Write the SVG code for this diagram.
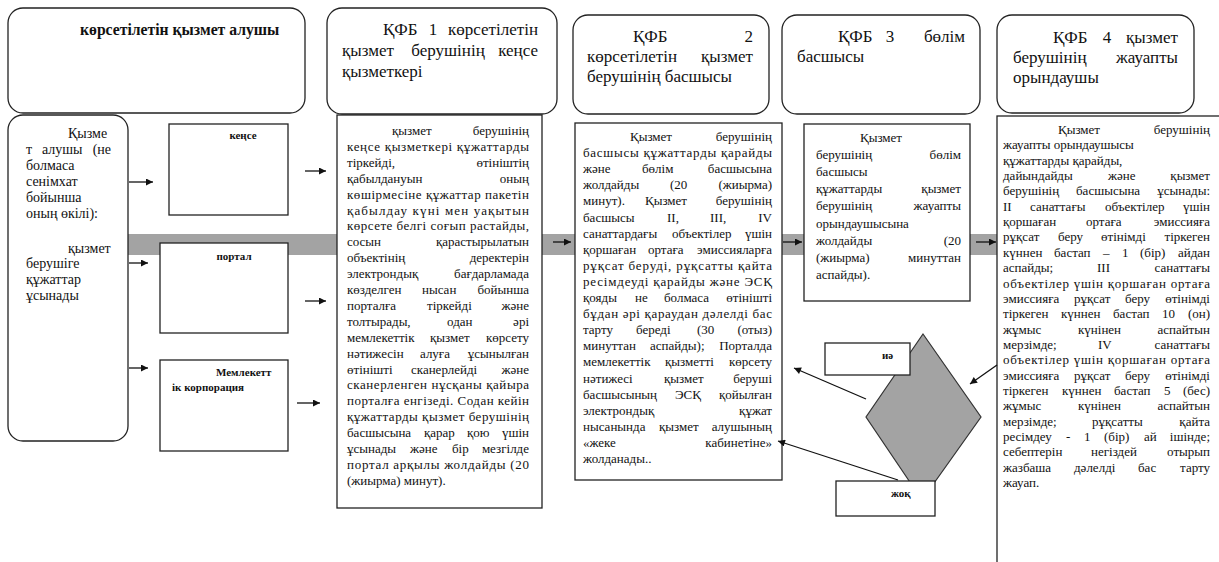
<svg xmlns="http://www.w3.org/2000/svg" width="1219" height="562" viewBox="0 0 1219 562">
<style>
text{font-family:"Liberation Serif","Times New Roman",serif;font-size:13px;fill:#111}
.e{text-anchor:end}
.m{text-anchor:middle}
.h{font-size:17px}
.hb{font-size:15.7px;font-weight:bold}
.l{font-size:14px}
.sm{font-size:11px;font-weight:bold}
.box{fill:#fff;stroke:#222;stroke-width:1.3}
.band{fill:#a3a3a3}
.dia{fill:#a3a3a3;stroke:#333;stroke-width:1.2}
.cn{stroke:#111;stroke-width:1.3;fill:none;marker-end:url(#ah)}
</style>
<defs>
<marker id="ah" viewBox="0 0 10 10" refX="10" refY="5" markerWidth="9" markerHeight="7" markerUnits="userSpaceOnUse" orient="auto">
<path d="M0,0 L10,5 L0,10 z" fill="#111"/>
</marker>
</defs>

<g id="band"><rect class="band" x="128" y="234" width="869" height="21"/></g>

<g id="header-1">
<rect class="box" x="8" y="8" width="297" height="105" rx="15"/>
<text class="hb" x="80" y="35">көрсетілетін қызмет алушы</text>
</g>
<g id="header-2">
<rect class="box" x="327" y="8" width="230" height="106" rx="15"/>
<text class="h" x="383" y="35">ҚФБ</text><text class="h m" x="433" y="35">1</text><text class="h e" x="538" y="35">көрсетілетін</text>
<text class="h" x="342" y="56">қызмет</text><text class="h m" x="448" y="56">берушінің</text><text class="h e" x="538" y="56">кеңсе</text>
<text class="h" x="342" y="77">қызметкері</text>
</g>
<g id="header-3">
<rect class="box" x="573" y="15" width="196" height="99" rx="15"/>
<text class="h" x="633" y="42">ҚФБ</text><text class="h e" x="753" y="42">2</text>
<text class="h" x="587" y="62">көрсетілетін</text><text class="h e" x="753" y="62">қызмет</text>
<text class="h" x="587" y="82">берушінің басшысы</text>
</g>
<g id="header-4">
<rect class="box" x="782" y="15" width="198" height="99" rx="15"/>
<text class="h" x="838" y="42">ҚФБ</text><text class="h m" x="890" y="42">3</text><text class="h e" x="965" y="42">бөлім</text>
<text class="h" x="797" y="62">басшысы</text>
</g>
<g id="header-5">
<rect class="box" x="997" y="15" width="197" height="98" rx="15"/>
<text class="h" x="1053" y="43">ҚФБ</text><text class="h m" x="1107" y="43">4</text><text class="h e" x="1178" y="43">қызмет</text>
<text class="h" x="1013" y="63">берушінің</text><text class="h e" x="1178" y="63">жауапты</text>
<text class="h" x="1013" y="83">орындаушы</text>
</g>

<g id="recipient">
<rect class="box" x="8" y="115" width="120" height="326" rx="15"/>
<text class="l" x="68" y="138">Қызме</text>
<text class="l" x="26" y="154">т</text><text class="l" x="42" y="154">алушы</text><text class="l e" x="111" y="154">(не</text>
<text class="l" x="26" y="170">болмаса</text>
<text class="l" x="26" y="186">сенімхат</text>
<text class="l" x="26" y="202">бойынша</text>
<text class="l" x="26" y="218">оның өкілі):</text>
<text class="l" x="68" y="253">қызмет</text>
<text class="l" x="26" y="268">берушіге</text>
<text class="l" x="26" y="284">құжаттар</text>
<text class="l" x="26" y="300">ұсынады</text>
</g>

<g id="office">
<rect class="box" x="169" y="124" width="119" height="91"/>
<text class="sm m" x="243" y="139">кеңсе</text>
</g>
<g id="portal">
<rect class="box" x="160" y="243" width="128" height="90"/>
<text class="sm m" x="234" y="260">портал</text>
</g>
<g id="state-corp">
<rect class="box" x="160" y="360" width="128" height="91"/>
<text class="sm" x="216" y="376">Мемлекетт</text>
<text class="sm" x="172" y="391">ік корпорация</text>
</g>

<g id="step-1">
<rect class="box" x="337" y="115" width="205" height="393"/>
<text x="392" y="135">қызмет</text><text class="e" x="529" y="135">берушінің</text>
<text x="347" y="151" textLength="182" lengthAdjust="spacing">кеңсе қызметкері құжаттарды</text>
<text x="347" y="167">тіркейді,</text><text class="e" x="529" y="167">өтініштің</text>
<text x="347" y="183">қабылдануын</text><text class="e" x="529" y="183">оның</text>
<text x="347" y="199" textLength="182" lengthAdjust="spacing">көшірмесіне құжаттар пакетін</text>
<text x="347" y="214.5" textLength="182" lengthAdjust="spacing">қабылдау күні мен уақытын</text>
<text x="347" y="230.4" textLength="182" lengthAdjust="spacing">көрсете белгі соғып растайды,</text>
<text x="347" y="246.3">сосын</text><text class="e" x="529" y="246.3">қарастырылатын</text>
<text x="347" y="262.2">объектінің</text><text class="e" x="529" y="262.2">деректерін</text>
<text x="347" y="278.1">электрондық</text><text class="e" x="529" y="278.1">бағдарламада</text>
<text x="347" y="294">көзделген</text><text x="422" y="294">нысан</text><text class="e" x="529" y="294">бойынша</text>
<text x="347" y="309.9">порталға</text><text x="427" y="309.9">тіркейді</text><text class="e" x="529" y="309.9">және</text>
<text x="347" y="325.8">толтырады,</text><text x="447" y="325.8">одан</text><text class="e" x="529" y="325.8">әрі</text>
<text x="347" y="341.7">мемлекеттік</text><text x="430" y="341.7">қызмет</text><text class="e" x="529" y="341.7">көрсету</text>
<text x="347" y="357.6">нәтижесін</text><text x="420" y="357.6">алуға</text><text class="e" x="529" y="357.6">ұсынылған</text>
<text x="347" y="373.5">өтінішті</text><text x="411" y="373.5">сканерлейді</text><text class="e" x="529" y="373.5">және</text>
<text x="347" y="389.4" textLength="182" lengthAdjust="spacing">сканерленген нұсқаны қайыра</text>
<text x="347" y="405.3" textLength="182" lengthAdjust="spacing">порталға енгізеді. Содан кейін</text>
<text x="347" y="421.2" textLength="182" lengthAdjust="spacing">құжаттарды қызмет берушінің</text>
<text x="347" y="437.1">басшысына</text><text x="424" y="437.1">қарар</text><text x="467" y="437.1">қою</text><text class="e" x="529" y="437.1">үшін</text>
<text x="347" y="453">ұсынады</text><text x="410" y="453">және</text><text x="452" y="453">бір</text><text class="e" x="529" y="453">мезгілде</text>
<text x="347" y="468.9" textLength="182" lengthAdjust="spacing">портал арқылы жолдайды (20</text>
<text x="347" y="484.8">(жиырма) минут).</text>
</g>

<g id="step-2">
<rect class="box" x="575" y="123" width="207" height="357"/>
<text x="630" y="141">Қызмет</text><text class="e" x="772" y="141">берушінің</text>
<text x="583" y="157.1" textLength="189" lengthAdjust="spacing">басшысы құжаттарды қарайды</text>
<text x="583" y="173.2">және</text><text x="642" y="173.2">бөлім</text><text class="e" x="772" y="173.2">басшысына</text>
<text x="583" y="189.3">жолдайды</text><text x="670" y="189.3">(20</text><text class="e" x="772" y="189.3">(жиырма)</text>
<text x="583" y="205.4">минут).</text><text x="645" y="205.4">Қызмет</text><text class="e" x="772" y="205.4">берушінің</text>
<text x="583" y="221.5">басшысы</text><text x="667" y="221.5">II,</text><text x="710" y="221.5">III,</text><text class="e" x="772" y="221.5">IV</text>
<text x="583" y="237.6">санаттардағы</text><text x="672" y="237.6">объектілер</text><text class="e" x="772" y="237.6">үшін</text>
<text x="583" y="253.7">қоршаған</text><text x="648" y="253.7">ортаға</text><text class="e" x="772" y="253.7">эмиссияларға</text>
<text x="583" y="269.8" textLength="189" lengthAdjust="spacing">рұқсат беруді, рұқсатты қайта</text>
<text x="583" y="285.9" textLength="189" lengthAdjust="spacing">ресімдеуді қарайды және ЭСҚ</text>
<text x="583" y="302">қояды</text><text x="635" y="302">не</text><text x="664" y="302">болмаса</text><text class="e" x="772" y="302">өтінішті</text>
<text x="583" y="318.1" textLength="189" lengthAdjust="spacing">бұдан әрі қараудан дәлелді бас</text>
<text x="583" y="334.2">тарту</text><text x="636" y="334.2">береді</text><text x="697" y="334.2">(30</text><text class="e" x="772" y="334.2">(отыз)</text>
<text x="583" y="350.3">минуттан</text><text x="650" y="350.3">аспайды);</text><text class="e" x="772" y="350.3">Порталда</text>
<text x="583" y="366.4">мемлекеттік</text><text x="665" y="366.4">қызметті</text><text class="e" x="772" y="366.4">көрсету</text>
<text x="583" y="382.5">нәтижесі</text><text x="664" y="382.5">қызмет</text><text class="e" x="772" y="382.5">беруші</text>
<text x="583" y="398.6">басшысының</text><text x="675" y="398.6">ЭСҚ</text><text class="e" x="772" y="398.6">қойылған</text>
<text x="583" y="414.7">электрондық</text><text class="e" x="772" y="414.7">құжат</text>
<text x="583" y="430.8">нысанында</text><text x="659" y="430.8">қызмет</text><text class="e" x="772" y="430.8">алушының</text>
<text x="583" y="446.9">«жеке</text><text class="e" x="772" y="446.9">кабинетіне»</text>
<text x="583" y="463">жолданады..</text>
</g>

<g id="step-3">
<rect class="box" x="804" y="124" width="166" height="177"/>
<text x="860" y="142">Қызмет</text>
<text x="816" y="159.1">берушінің</text><text class="e" x="961" y="159.1">бөлім</text>
<text x="816" y="176.2">басшысы</text>
<text x="816" y="193.3">құжаттарды</text><text class="e" x="961" y="193.3">қызмет</text>
<text x="816" y="210.4">берушінің</text><text class="e" x="961" y="210.4">жауапты</text>
<text x="816" y="227.5">орындаушысына</text>
<text x="816" y="244.6">жолдайды</text><text class="e" x="961" y="244.6">(20</text>
<text x="816" y="261.7">(жиырма)</text><text class="e" x="961" y="261.7">минуттан</text>
<text x="816" y="278.8">аспайды).</text>
</g>

<g id="step-4">
<rect class="box" x="997" y="116" width="240" height="460"/>
<text x="1058" y="134">Қызмет</text><text class="e" x="1210" y="134">берушінің</text>
<text x="1003" y="149.35">жауапты орындаушысы</text>
<text x="1003" y="164.7">құжаттарды қарайды,</text>
<text x="1003" y="180.05">дайындайды</text><text x="1108" y="180.05">және</text><text class="e" x="1210" y="180.05">қызмет</text>
<text x="1003" y="195.4">берушінің</text><text x="1076" y="195.4">басшысына</text><text class="e" x="1210" y="195.4">ұсынады:</text>
<text x="1003" y="210.75">II</text><text x="1030" y="210.75">санаттағы</text><text x="1105" y="210.75">объектілер</text><text class="e" x="1210" y="210.75">үшін</text>
<text x="1003" y="226.1">қоршаған</text><text x="1086" y="226.1">ортаға</text><text class="e" x="1210" y="226.1">эмиссияға</text>
<text x="1003" y="241.45">рұқсат</text><text x="1058" y="241.45">беру</text><text x="1101" y="241.45">өтінімді</text><text class="e" x="1210" y="241.45">тіркеген</text>
<text x="1003" y="256.8">күннен</text><text x="1054" y="256.8">бастап</text><text x="1103" y="256.8">–</text><text x="1122" y="256.8">1</text><text x="1140" y="256.8">(бір)</text><text class="e" x="1210" y="256.8">айдан</text>
<text x="1003" y="272.15">аспайды;</text><text x="1097" y="272.15">III</text><text class="e" x="1210" y="272.15">санаттағы</text>
<text x="1003" y="287.5" textLength="207" lengthAdjust="spacing">объектілер үшін қоршаған ортаға</text>
<text x="1003" y="302.85">эмиссияға</text><text x="1074" y="302.85">рұқсат</text><text x="1125" y="302.85">беру</text><text class="e" x="1210" y="302.85">өтінімді</text>
<text x="1003" y="318.2">тіркеген</text><text x="1061" y="318.2">күннен</text><text x="1113" y="318.2">бастап</text><text x="1162" y="318.2">10</text><text class="e" x="1210" y="318.2">(он)</text>
<text x="1003" y="333.55">жұмыс</text><text x="1078" y="333.55">күнінен</text><text class="e" x="1210" y="333.55">аспайтын</text>
<text x="1003" y="348.9">мерзімде;</text><text x="1098" y="348.9">IV</text><text class="e" x="1210" y="348.9">санаттағы</text>
<text x="1003" y="364.25" textLength="207" lengthAdjust="spacing">объектілер үшін қоршаған ортаға</text>
<text x="1003" y="379.6">эмиссияға</text><text x="1074" y="379.6">рұқсат</text><text x="1125" y="379.6">беру</text><text class="e" x="1210" y="379.6">өтінімді</text>
<text x="1003" y="394.95">тіркеген</text><text x="1062" y="394.95">күннен</text><text x="1114" y="394.95">бастап</text><text x="1164" y="394.95">5</text><text class="e" x="1210" y="394.95">(бес)</text>
<text x="1003" y="410.3">жұмыс</text><text x="1078" y="410.3">күнінен</text><text class="e" x="1210" y="410.3">аспайтын</text>
<text x="1003" y="425.65">мерзімде;</text><text x="1092" y="425.65">рұқсатты</text><text class="e" x="1210" y="425.65">қайта</text>
<text x="1003" y="441">ресімдеу</text><text x="1066" y="441">-</text><text x="1084" y="441">1</text><text x="1104" y="441">(бір)</text><text x="1144" y="441">ай</text><text class="e" x="1210" y="441">ішінде;</text>
<text x="1003" y="456.35">себептерін</text><text x="1091" y="456.35">негіздей</text><text class="e" x="1210" y="456.35">отырып</text>
<text x="1003" y="471.7">жазбаша</text><text x="1074" y="471.7">дәлелді</text><text x="1138" y="471.7">бас</text><text class="e" x="1210" y="471.7">тарту</text>
<text x="1003" y="487.05">жауап.</text>
</g>

<g id="decision">
<polygon class="dia" points="923,334 981,417 922,500 866,417"/>
</g>
<g id="yes">
<rect class="box" x="825" y="343" width="85" height="32"/>
<text class="sm" x="882" y="359">иә</text>
</g>
<g id="no">
<rect class="box" x="836" y="481" width="99" height="35"/>
<text class="sm" x="891" y="497">жоқ</text>
</g>

<g id="connectors">
<line class="cn" x1="129" y1="182" x2="153" y2="182"/>
<line class="cn" x1="129" y1="263" x2="148" y2="263"/>
<line class="cn" x1="129" y1="368" x2="148" y2="368"/>
<line class="cn" x1="305" y1="171" x2="326" y2="171"/>
<line class="cn" x1="305" y1="301" x2="326" y2="301"/>
<line class="cn" x1="297" y1="403" x2="320" y2="403"/>
<line class="cn" x1="553" y1="242" x2="571" y2="242"/>
<line class="cn" x1="783" y1="242" x2="802" y2="242"/>
<line class="cn" x1="976" y1="242" x2="996" y2="242"/>
<line class="cn" x1="997" y1="365" x2="970" y2="384"/>
<line class="cn" x1="866" y1="399" x2="794" y2="368"/>
<line class="cn" x1="898" y1="480" x2="778" y2="441"/>
</g>
</svg>
